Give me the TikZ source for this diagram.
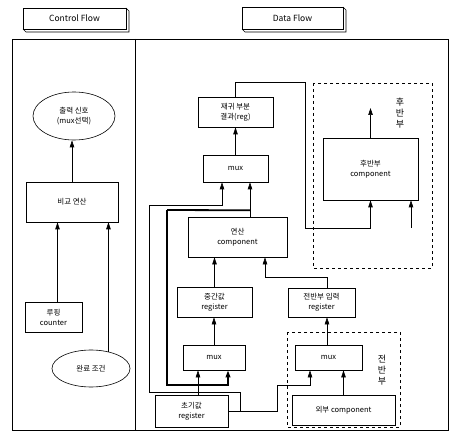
\documentclass[tikz,border=0pt]{standalone}
\usepackage{fontspec}
\setmainfont{Noto Sans CJK KR}
\usetikzlibrary{arrows.meta,calc,positioning,shapes.geometric}
\tikzset{blk/.style={draw,line width=0.6pt,align=center,inner sep=1pt,font=\fontsize{7.5}{10}\selectfont},
  ell/.style={blk,ellipse,inner sep=0pt},
  arr/.style={-{Triangle[length=7pt,width=4.5pt]},line width=0.6pt},
  fat/.style={line width=1.8pt},
  tab/.style={draw,line width=0.6pt,font=\fontsize{8.5}{10}\selectfont,inner sep=0pt},
  grp/.style={draw,dashed,line width=0.8pt}}

\begin{document}
\begin{tikzpicture}[x=1pt,y=-1pt]
\useasboundingbox (0,0) rectangle (452,438);
% tabs and frame
\node[tab,minimum width=103pt,minimum height=21pt] (ctrltab) at (74.5,18.5) {Control Flow};
\draw[line width=0.6pt] (23,29)--(26,32)--(129,32)--(129,11)--(126,8);
\node[tab,minimum width=101pt,minimum height=22pt] (datatab) at (292.5,18) {Data Flow};
\draw[line width=0.6pt] (242,29)--(245,32)--(346,32)--(346,10)--(343,7);
\draw[line width=0.8pt] (12,39) rectangle (448,430) (135,39)--(135,430);
% control flow
\node[ell,minimum width=82pt,minimum height=48pt] (outsig) at (74,116) {출력 신호\\(mux선택)};
\node[blk,minimum width=92pt,minimum height=40pt] (cmp) at (72,202) {비교 연산};
\node[blk,minimum width=57pt,minimum height=30pt] (counter) at (53.5,317) {루핑\\counter};
\node[ell,minimum width=78pt,minimum height=37pt] (endcond) at (91,368.5) {완료 조건};
\draw[arr] (cmp.north) -- (cmp.north |- outsig.south);
\draw[arr] ([xshift=4pt]counter.north) -- ([xshift=4pt]counter.north |- cmp.south);
\draw[arr] (endcond.44) -- (endcond.44 |- cmp.south);
% data flow
\draw[grp] (313,83) rectangle (432,268);
\draw[grp] (287,332) rectangle (400,427);
\node[font=\fontsize{9}{11}\selectfont,align=center] (backlbl) at (400,113) {후\\반\\부};
\node[font=\fontsize{9}{11}\selectfont,align=center] (frontlbl) at (382,370) {전\\반\\부};
\node[blk,minimum width=75pt,minimum height=30pt] (partres) at (235.5,112) {재귀 부분\\결과(reg)};
\node[blk,minimum width=65pt,minimum height=27pt] (muxA) at (235.5,168.5) {mux};
\node[blk,minimum width=99pt,minimum height=40pt] (calc) at (237.5,237) {연산\\component};
\node[blk,minimum width=75pt,minimum height=30pt] (midreg) at (214.5,302) {중간값\\register};
\node[blk,minimum width=62pt,minimum height=25pt] (muxB) at (214,357.5) {mux};
\node[blk,minimum width=73pt,minimum height=32pt] (initreg) at (191.5,411) {초기값\\register};
\node[blk,minimum width=67pt,minimum height=29pt] (frontreg) at (321.5,302.5) {전반부 입력\\register};
\node[blk,minimum width=67pt,minimum height=25pt] (muxC) at (328.5,357.5) {mux};
\node[blk,minimum width=103pt,minimum height=30pt] (extcomp) at (343.5,410) {외부 component};
\node[blk,minimum width=95pt,minimum height=62pt] (backcomp) at (370.5,169) {후반부\\component};
\coordinate (jt) at (305,82);
\coordinate (bk1) at (305,228);
\coordinate (bk2) at (411,228);
\coordinate (bkout) at (370.5,108);
\coordinate (ja) at (198,392);
\coordinate (lbus) at (149,205);
\coordinate (rbus) at (167,210);
\coordinate (fx) at (327,0);
\coordinate (c2) at (265,277);
\draw[arr] (muxA.north) -- (partres.south);
\draw[arr] (partres.north) |- (jt) -- (bk1) -| (backcomp.south);
\draw[arr] (bk2) -- (bk2 |- backcomp.south);
\draw[arr] (backcomp.north) -- (bkout);
\draw[arr] (calc.north -| {$(muxA.south)+(14.5,0)$}) -- ($(muxA.south)+(14.5,0)$);
\draw[fat] ($(muxA.south)+(14.5,28)$) -- (rbus);
\draw[fat,arr,line width=1.8pt] (rbus) |- (228,385) -- (muxB.south -| 228,0);
\draw[arr] (ja) -| (lbus) -| ($(muxA.south)+(-13.5,0)$);
\draw[arr] (initreg.north -| ja) -- (ja |- muxB.south);
\draw[line width=0.6pt] (ja) -| (240,411);
\draw[arr] (initreg.east) -| (277,385) -| ($(muxC.south)+(-18.5,0)$);
\draw[arr] (midreg.north) -- (midreg.north |- calc.south);
\draw[arr] (frontreg.north -| fx) |- (c2) -- (c2 |- calc.south);
\draw[arr] (muxB.north) -- (muxB.north |- midreg.south);
\draw[arr] (muxC.north -| fx) -- (frontreg.south -| fx);
\draw[arr] (extcomp.north) -- (extcomp.north |- muxC.south);
\end{tikzpicture}
\end{document}
